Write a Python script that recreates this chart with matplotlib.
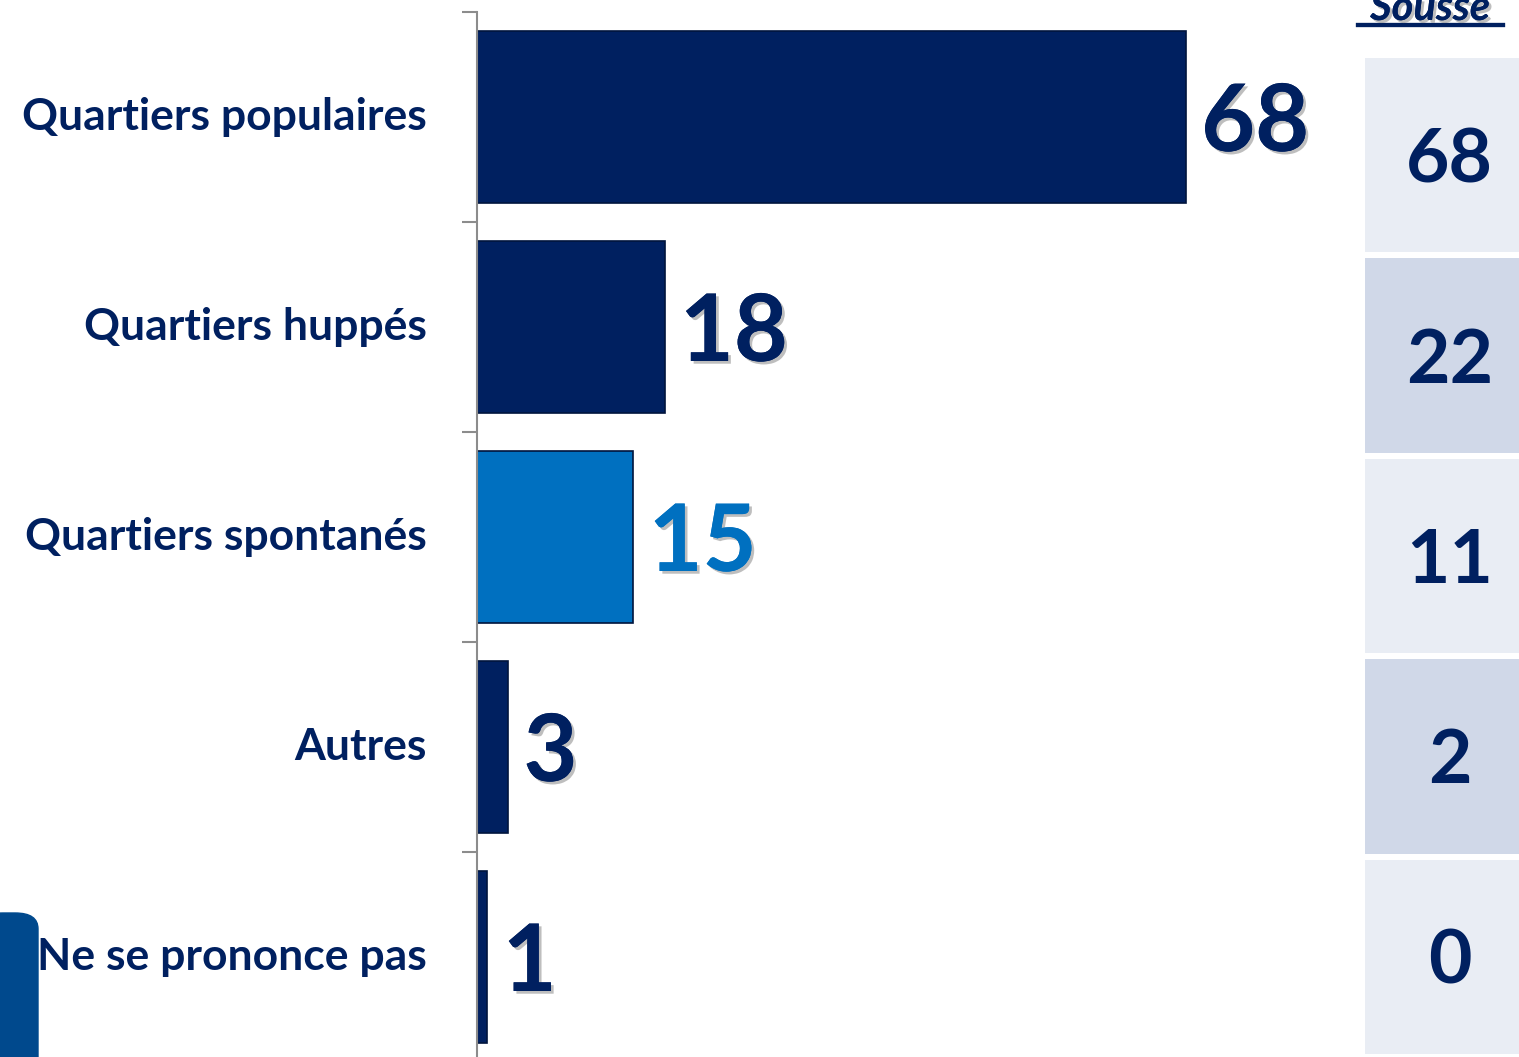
import matplotlib.pyplot as plt
import matplotlib.patheffects as pe
from matplotlib.patches import FancyBboxPatch
from matplotlib.lines import Line2D

categories = ['Quartiers populaires', 'Quartiers huppés', 'Quartiers spontanés',
              'Autres', 'Ne se prononce pas']
values = [68, 18, 15, 3, 1]
sousse = [68, 22, 11, 2, 0]
highlight = 'Quartiers spontanés'

navy = '#002060'
blue = '#0070C0'
plt.rcParams['font.family'] = ['Lato', 'DejaVu Sans']

W, H = 1519, 1057
fig = plt.figure(figsize=(W / 100, H / 100), dpi=100)

# main bar axes
ax = fig.add_axes([477 / W, 1 - 1062 / H, 834 / W, 1050 / H])
colors = [blue if c == highlight else navy for c in categories]
ypos = list(range(len(categories)))
ax.barh(ypos, values, height=0.82, color=colors, edgecolor='#00143d', linewidth=1.2)
ax.set_xlim(0, 80)
ax.set_ylim(len(categories) - 0.5, -0.5)
for s in ['top', 'right', 'bottom']:
    ax.spines[s].set_visible(False)
ax.spines['left'].set_color('#8c8c8c')
ax.spines['left'].set_linewidth(1.5)
ax.set_xticks([])
ax.set_yticks([i - 0.5 for i in ypos], labels=[])
ax.tick_params(axis='y', length=11, width=1.5, color='#8c8c8c')

shadow = [pe.withSimplePatchShadow(offset=(2, -2), shadow_rgbFace='#7f7f7f', alpha=0.5), pe.Normal()]
for y, v, c, lab in zip(ypos, values, colors, categories):
    ax.annotate(str(v), (v, y), xytext=(11, -5), textcoords='offset points',
                ha='left', va='center', fontsize=67, fontweight='bold', color=c,
                path_effects=shadow, annotation_clip=False)
    ax.annotate(lab, (0, y), xytext=(-36, 0), textcoords='offset points',
                ha='right', va='center', fontsize=32, fontweight='bold', color=navy,
                annotation_clip=False)

# right-hand Sousse panel
ax2 = fig.add_axes([1365 / W, 0, 154 / W, 1002 / H])
panel_colors = ['#E9EDF4', '#D0D8E8'] * 3
ax2.barh(ypos, [1] * len(sousse), height=0.97, left=0,
         color=panel_colors[:len(sousse)], linewidth=0)
ax2.set_xlim(0, 1)
ax2.set_ylim(len(sousse) - 0.5, -0.5)
ax2.axis('off')
for y, v in zip(ypos, sousse):
    ax2.annotate(str(v), (0.55, y), xytext=(0, -4), textcoords='offset points',
                 ha='center', va='center', fontsize=54, fontweight='bold', color=navy)

fig.text(1430 / W, 1 - 20 / H, 'Sousse', ha='center', va='baseline', fontsize=30,
         fontweight='bold', fontstyle='italic', color=navy,
         path_effects=shadow)
fig.add_artist(Line2D([1358 / W, 1503 / W], [1 - 25 / H, 1 - 25 / H], color=navy, lw=3,
                      path_effects=shadow))

# blue tab at bottom-left
fig.add_artist(FancyBboxPatch((-20 / W, -20 / H), 58 / W, 164 / H,
                              boxstyle='round,pad=0,rounding_size=0.015',
                              transform=fig.transFigure, color='#00498D', zorder=0))

fig.savefig('out.png', dpi=100)
